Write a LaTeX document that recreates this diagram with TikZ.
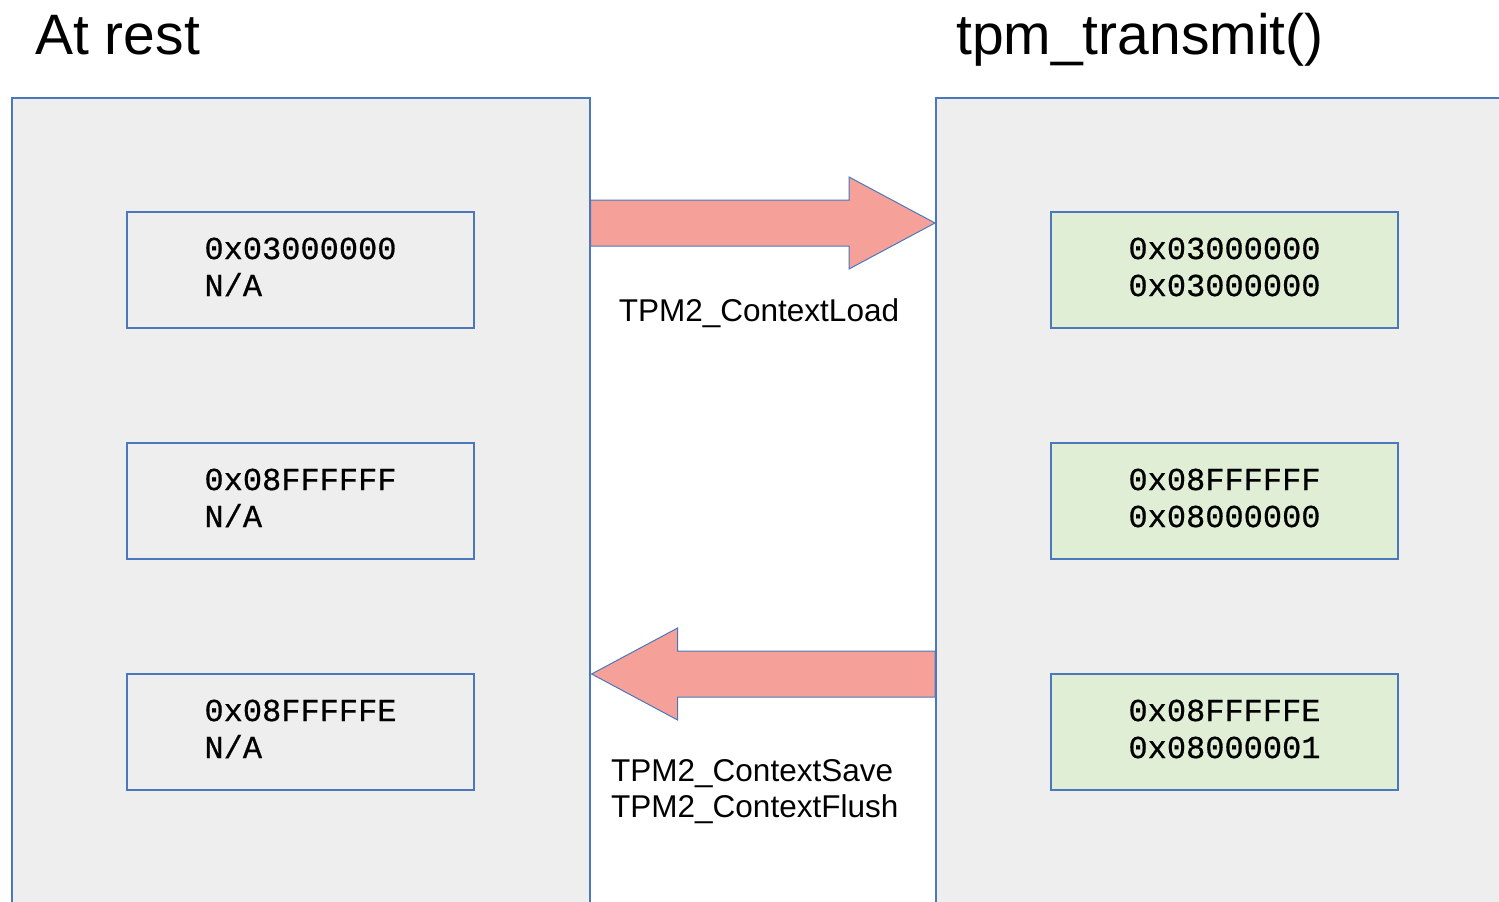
\documentclass[tikz,border=0pt]{standalone}
\usepackage{fontspec}
\setmainfont{Liberation Sans}
\setmonofont[FakeBold=0.6]{Liberation Mono}
\usetikzlibrary{calc}
\definecolor{edge}{HTML}{4A78BA}
\definecolor{panelfill}{HTML}{EEEEEE}
\definecolor{livefill}{HTML}{E0EED5}
\definecolor{flowfill}{HTML}{F5A19A}
\begin{document}
\begin{tikzpicture}[x=1pt,y=-1pt,
  panel/.style={draw=edge, line width=1.6pt, fill=panelfill, anchor=north west,
    inner sep=0pt, minimum height=860pt},
  slot/.style={draw=edge, line width=1.6pt, minimum width=347pt, minimum height=116pt,
    inner sep=0pt},
  handle/.style={inner sep=0pt, align=left, font=\ttfamily\fontsize{32}{37}\selectfont},
  title/.style={anchor=base west, inner sep=0pt, font=\fontsize{57}{66}\selectfont},
  label/.style={inner sep=0pt, align=left, font=\fontsize{31.5}{36}\selectfont},
  flow/.style={fill=flowfill, draw=edge, line width=1pt, line join=miter}]
\useasboundingbox (0,0) rectangle (1499,902);
\clip (0,0) rectangle (1499,902);

% section headings
\node[title] (restTitle) at (35,54) {At rest};
\node[title] (liveTitle) at (956,54) {tpm\_transmit()};

% the two handle spaces
\node[panel, minimum width=578pt] (rest) at (11,97) {};
\node[panel, minimum width=620pt] (live) at (935,97) {};

% handles at rest
\node[slot, fill=panelfill] (r1) at (300.5,270) {};
\node[slot, fill=panelfill] (r2) at (300.5,501) {};
\node[slot, fill=panelfill] (r3) at (300.5,732) {};
\node[handle] (r1t) at ($(r1)+(0,-3)$) {0x03000000\\N/A};
\node[handle] (r2t) at ($(r2)+(0,-3)$) {0x08FFFFFF\\N/A};
\node[handle] (r3t) at ($(r3)+(0,-3)$) {0x08FFFFFE\\N/A};

% handles while transmitting
\node[slot, fill=livefill] (l1) at (1224.5,270) {};
\node[slot, fill=livefill] (l2) at (1224.5,501) {};
\node[slot, fill=livefill] (l3) at (1224.5,732) {};
\node[handle] (l1t) at ($(l1)+(0,-3)$) {0x03000000\\0x03000000};
\node[handle] (l2t) at ($(l2)+(0,-3)$) {0x08FFFFFF\\0x08000000};
\node[handle] (l3t) at ($(l3)+(0,-3)$) {0x08FFFFFE\\0x08000001};

% load: rest -> live
\coordinate (loadFrom) at ($(rest.north east)+(0,126)$);
\coordinate (loadTo) at ($(live.north west)+(0,126)$);
\draw[flow] ($(loadTo)+(-86,-23)$) -- ($(loadFrom)+(0,-23)$) -- ($(loadFrom)+(0,23)$)
  -- ($(loadTo)+(-86,23)$) -- ($(loadTo)+(-86,46)$) -- (loadTo)
  -- ($(loadTo)+(-86,-46)$) -- cycle;

% save/flush: live -> rest
\coordinate (saveFrom) at ($(live.north west)+(0,577)$);
\coordinate (saveTo) at ($(rest.north east)+(1,577)$);
\draw[flow] ($(saveTo)+(86,-23)$) -- ($(saveFrom)+(0,-23)$) -- ($(saveFrom)+(0,23)$)
  -- ($(saveTo)+(86,23)$) -- ($(saveTo)+(86,46)$) -- (saveTo)
  -- ($(saveTo)+(86,-46)$) -- cycle;

% command labels
\node[label, anchor=base] (loadText) at (759,321) {TPM2\_ContextLoad};
\node[label, anchor=base west] (saveText) at (611,817) {TPM2\_ContextSave\\TPM2\_ContextFlush};
\end{tikzpicture}
\end{document}
